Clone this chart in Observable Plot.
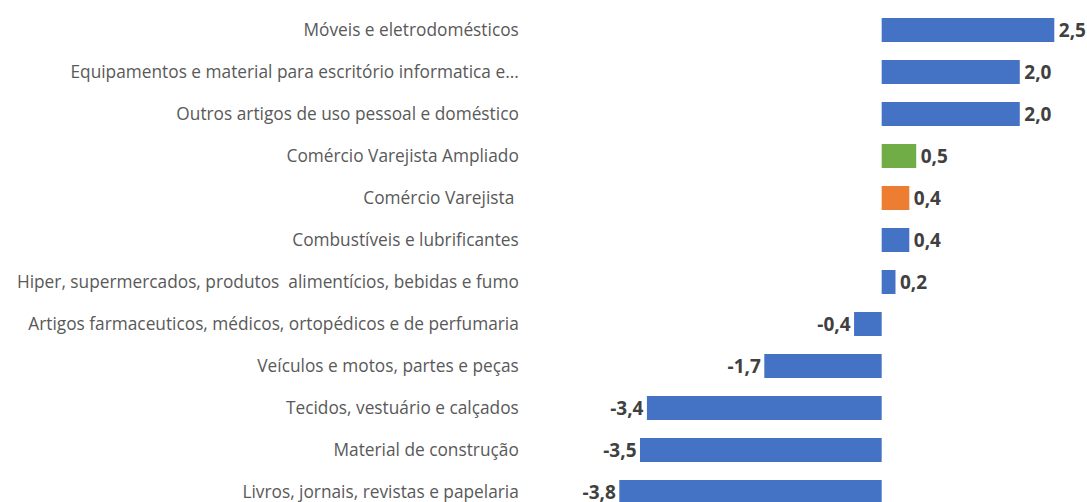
<!DOCTYPE html>
<html>
<head>
<meta charset="utf-8">
<script src="https://cdn.jsdelivr.net/npm/d3@7"></script>
<script src="https://cdn.jsdelivr.net/npm/@observablehq/plot@0.6"></script>
<style>
  html, body { margin: 0; padding: 0; background: #fff; overflow: hidden; }
  svg text { white-space: pre; }
</style>
</head>
<body>
<div id="chart"></div>
<script>
const categories = [
  "Móveis e eletrodomésticos",
  "Equipamentos e material para escritório informatica e...",
  "Outros artigos de uso pessoal e doméstico",
  "Comércio Varejista Ampliado",
  "Comércio Varejista ",
  "Combustíveis e lubrificantes",
  "Hiper, supermercados, produtos  alimentícios, bebidas e fumo",
  "Artigos farmaceuticos, médicos, ortopédicos e de perfumaria",
  "Veículos e motos, partes e peças",
  "Tecidos, vestuário e calçados",
  "Material de construção",
  "Livros, jornais, revistas e papelaria"
];
const values = [2.5, 2.0, 2.0, 0.5, 0.4, 0.4, 0.2, -0.4, -1.7, -3.4, -3.5, -3.8];
const groups = ["segmento", "segmento", "segmento", "ampliado", "varejo", "segmento", "segmento", "segmento", "segmento", "segmento", "segmento", "segmento"];
const groupColors = {segmento: "#4472C4", ampliado: "#70AD47", varejo: "#ED7D31"};

const data = categories.map((c, i) => ({cat: c, value: values[i], group: groups[i]}));
const fmt = v => v.toFixed(1).replace(".", ",");

const chart = Plot.plot({
  width: 1087,
  height: 502,
  marginLeft: 619.3,
  marginRight: 32.7,
  marginTop: 0,
  marginBottom: 0,
  style: {fontFamily: "'Open Sans', sans-serif", background: "#fff"},
  x: {domain: [-3.8, 2.5], axis: null},
  y: {domain: categories, range: [9, 513], padding: 0, label: null},
  marks: [
    Plot.ruleX([0], {y1: categories[0], y2: categories[categories.length - 1], stroke: "#d9d9d9", strokeWidth: 1.5, insetTop: -21, insetBottom: -30}),
    Plot.barX(data, {x: "value", y: "cat", fill: d => groupColors[d.group], insetTop: 9, insetBottom: 9}),
    Plot.axisY({tickSize: 0, tickPadding: 101, fontSize: 17.3, color: "#595959", label: null}),
    Plot.text(data.filter(d => d.value >= 0), {x: "value", y: "cat", text: d => fmt(d.value), textAnchor: "start", dx: 4, fontSize: 19, fontWeight: "bold", fill: "#404040"}),
    Plot.text(data.filter(d => d.value < 0), {x: "value", y: "cat", text: d => fmt(d.value), textAnchor: "end", dx: -4, fontSize: 19, fontWeight: "bold", fill: "#404040"})
  ]
});
document.getElementById("chart").appendChild(chart);
</script>
</body>
</html>
